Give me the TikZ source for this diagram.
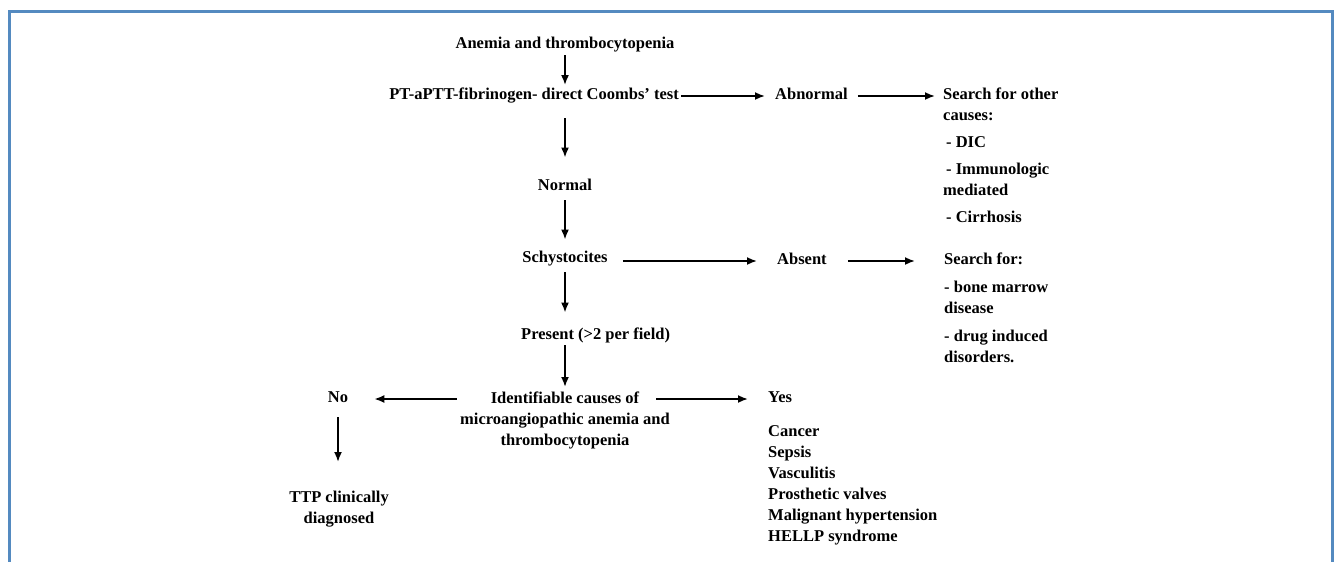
\documentclass[tikz,border=0pt]{standalone}
\usepackage{fontspec}
\setmainfont{Liberation Serif}
\usetikzlibrary{arrows.meta}
\definecolor{framebl}{RGB}{84,138,192}

\begin{document}
\begin{tikzpicture}[x=1pt,y=-1pt,
  txt/.style={font=\bfseries\fontsize{16.5}{21}\selectfont, inner sep=0pt, text height=11pt, text depth=3.5pt},
  lst/.style={font=\bfseries\fontsize{16.5}{21}\selectfont, inner sep=0pt, align=left, anchor=north west},
  arr/.style={-{Latex[length=10pt,width=8pt]}, line width=1.8pt}]
\useasboundingbox (0,0) rectangle (1334,562);
\draw[framebl, line width=3pt] (9.5,600) -- (9.5,11) -- (1332.5,11) -- (1332.5,600);

% main column
\node[txt] (anemia) at (565,45) {Anemia and thrombocytopenia};
\node[txt, anchor=east] (pttest) at (679,96) {PT-aPTT-fibrinogen- direct Coombs' test};
\node[txt] (normal) at (565,187) {Normal};
\node[txt] (schyst) at (565,259) {Schystocites};
\node[txt, anchor=west] (present) at (521,336) {Present (>2 per field)};
\node[txt, align=center, text height=, text depth=, anchor=north] (causes) at (565,392)
  {Identifiable causes of\\microangiopathic anemia and\\thrombocytopenia};

% right branches
\node[txt, anchor=west] (abnormal) at (775,96) {Abnormal};
\node[lst] (othercauses) at (943,88)
  {Search for other\\causes:\\[6pt]\hspace*{3pt}- DIC\\[6pt]\hspace*{3pt}- Immunologic\\mediated\\[6pt]\hspace*{3pt}- Cirrhosis};
\node[txt, anchor=west] (absent) at (777,261) {Absent};
\node[lst] (searchfor) at (944,253)
  {Search for:\\[7pt]- bone marrow\\disease\\[7pt]- drug induced\\disorders.};
\node[txt, anchor=west] (yes) at (768,399) {Yes};
\node[lst] (yeslist) at (768,425)
  {Cancer\\Sepsis\\Vasculitis\\Prosthetic valves\\Malignant hypertension\\HELLP syndrome};

% left branch
\node[txt] (no) at (338,399) {No};
\node[lst, align=center, anchor=north] (ttp) at (339,491) {TTP clinically\\diagnosed};

% arrows
\draw[arr, shorten <=3pt, shorten >=3.5pt] (anemia.south) -- (anemia.south |- pttest.north);
\draw[arr, shorten <=15pt, shorten >=22pt] (pttest.south -| normal) -- (normal.north);
\draw[arr, shorten <=6pt, shorten >=12pt] (normal.south) -- (schyst.north);
\draw[arr, shorten <=6pt, shorten >=16pt] (schyst.south) -- (schyst.south |- present.north);
\draw[arr, shorten <=2pt, shorten >=5pt] (present.south -| causes.north) -- (causes.north);
\draw[arr, shorten <=2pt, shorten >=10pt] (pttest.east) -- (abnormal.west);
\draw[arr, shorten <=10pt, shorten >=8pt] (abnormal.east) -- (abnormal.east -| othercauses.west);
\draw[arr, shorten <=15pt, shorten >=20pt] (schyst.east |- absent) -- (absent.west);
\draw[arr, shorten <=21pt, shorten >=29pt] (absent.east) -- (absent.east -| searchfor.west);
\draw[arr, shorten <=3pt, shorten >=26pt] (causes.west |- no) -- (no.east);
\draw[arr, shorten <=-14pt, shorten >=20pt] (causes.east |- yes) -- (yes.west);
\draw[arr, shorten <=11pt, shorten >=29pt] (no.south) -- (no.south |- ttp.north);

\end{tikzpicture}
\end{document}
